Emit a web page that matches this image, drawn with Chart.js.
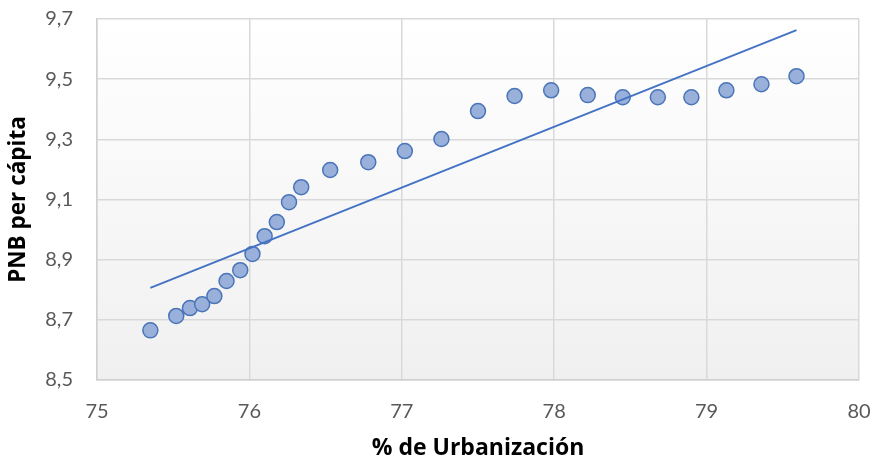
<!DOCTYPE html>
<html>
<head>
<meta charset="utf-8">
<script src="https://cdn.jsdelivr.net/npm/chart.js@4.4.1/dist/chart.umd.min.js"></script>
<style>
  html, body { margin: 0; padding: 0; background: #ffffff; }
  #wrap { width: 873px; height: 462px; position: relative; }
</style>
</head>
<body>
<div id="wrap"><canvas id="c" width="873" height="462"></canvas></div>
<script>
// Data
const urbanizacion = [75.35, 75.52, 75.61, 75.69, 75.77, 75.85, 75.94, 76.02, 76.10, 76.18, 76.26, 76.34, 76.53, 76.78, 77.02, 77.26, 77.50, 77.74, 77.98, 78.22, 78.45, 78.68, 78.90, 79.13, 79.36, 79.59];
const pnbPerCapita = [8.665, 8.713, 8.739, 8.752, 8.779, 8.829, 8.865, 8.919, 8.978, 9.025, 9.091, 9.141, 9.198, 9.224, 9.261, 9.301, 9.394, 9.444, 9.463, 9.447, 9.440, 9.440, 9.440, 9.463, 9.483, 9.510];
const tendenciaX = [75.35, 79.59];
const tendenciaY = [8.806, 9.663];
const xTicks = [75, 76, 77, 78, 79, 80];
const yTicks = [8.5, 8.7, 8.9, 9.1, 9.3, 9.5, 9.7];

const puntos = urbanizacion.map((x, i) => ({ x: x, y: pnbPerCapita[i] }));
const tendencia = tendenciaX.map((x, i) => ({ x: x, y: tendenciaY[i] }));

const plotBg = {
  id: 'plotBg',
  beforeDraw(chart) {
    const { ctx, chartArea: a } = chart;
    const g = ctx.createLinearGradient(0, a.top, 0, a.bottom);
    g.addColorStop(0, '#ffffff');
    g.addColorStop(1, '#f0f0f0');
    ctx.save();
    ctx.fillStyle = g;
    ctx.fillRect(a.left, a.top, a.right - a.left, a.bottom - a.top);
    ctx.restore();
  }
};

const noOverflow = (s) => { s.paddingTop = 0; s.paddingRight = 0; s.paddingLeft = 0; s.paddingBottom = 0; };

const ctx = document.getElementById('c').getContext('2d');

new Chart(ctx, {
  type: 'scatter',
  data: {
    datasets: [
      {
        label: 'Tendencia',
        type: 'line',
        data: tendencia,
        borderColor: '#4472c4',
        borderWidth: 2,
        pointRadius: 0,
        fill: false,
        order: 0
      },
      {
        label: 'PNB per cápita',
        data: puntos,
        pointRadius: 7.5,
        pointBackgroundColor: '#98b0da',
        pointBorderColor: '#4a74b8',
        pointBorderWidth: 1.5,
        order: 1
      }
    ]
  },
  plugins: [plotBg],
  options: {
    responsive: false,
    animation: false,
    devicePixelRatio: 1,
    layout: { padding: { top: 19, right: 14, bottom: 0, left: 0 } },
    plugins: { legend: { display: false }, tooltip: { enabled: false } },
    scales: {
      x: {
        type: 'linear',
        min: 75, max: 80,
        afterBuildTicks: (s) => { s.ticks = xTicks.map(v => ({ value: v })); },
        afterFit: (s) => { s.height = 82; noOverflow(s); },
        grid: { color: '#d9d9d9', lineWidth: 1.5, drawTicks: false },
        border: { display: true, color: '#d0d0d0', width: 1.5 },
        ticks: {
          padding: 20,
          color: '#595959',
          font: { family: 'Lato', size: 20 },
          callback: (v) => String(v)
        },
        title: {
          display: true,
          text: '% de Urbanización',
          color: '#000000',
          font: { family: 'Open Sans', size: 23, weight: 'bold' },
          padding: { top: 0, bottom: 0 }
        }
      },
      y: {
        type: 'linear',
        min: 8.5, max: 9.7,
        afterBuildTicks: (s) => { s.ticks = yTicks.map(v => ({ value: v })); },
        afterFit: (s) => { s.width = 97; noOverflow(s); },
        grid: { color: '#d9d9d9', lineWidth: 1.5, drawTicks: false },
        border: { display: true, color: '#d0d0d0', width: 1.5 },
        ticks: {
          padding: 24,
          color: '#595959',
          font: { family: 'Lato', size: 20 },
          callback: (v) => v.toFixed(1).replace('.', ',')
        },
        title: {
          display: true,
          text: 'PNB per cápita',
          color: '#000000',
          font: { family: 'Open Sans', size: 22.5, weight: 'bold' },
          padding: { top: 5, bottom: 0 }
        }
      }
    }
  }
});
</script>
</body>
</html>
